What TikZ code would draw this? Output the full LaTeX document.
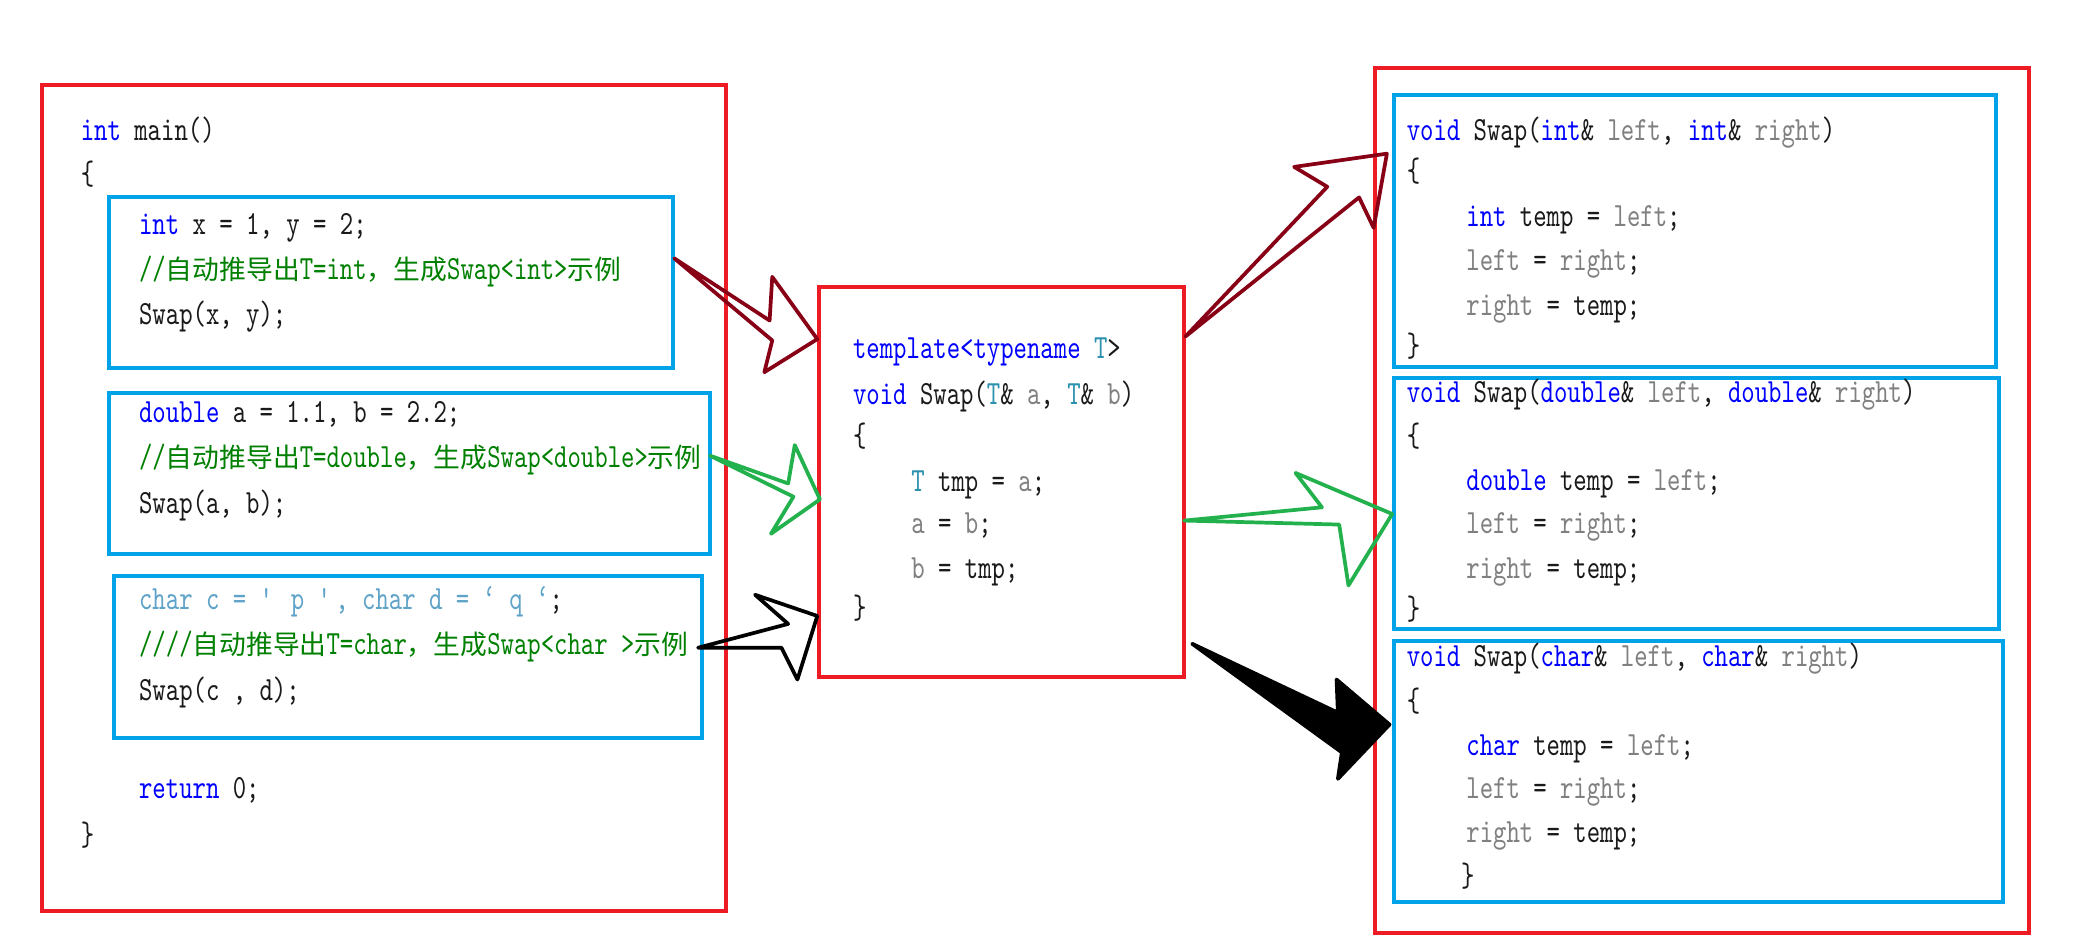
\documentclass[tikz,border=0pt]{standalone}
\usepackage{fontspec}
\usetikzlibrary{fit}
\newfontfamily\codefont[Extension=.otf, FakeStretch=0.752]{lmmono10-regular}
\newfontfamily\cjk[Scale=0.79]{Noto Sans CJK SC}
\definecolor{cRed}{HTML}{ED1C24}
\definecolor{cBlue}{HTML}{00A2E8}
\definecolor{cDarkRed}{HTML}{880015}
\definecolor{cGreen}{HTML}{22B14C}
\definecolor{cKw}{HTML}{0000FF}
\definecolor{cCm}{HTML}{008000}
\definecolor{cGy}{HTML}{808080}
\definecolor{cTp}{HTML}{2B91AF}
\definecolor{cCh}{HTML}{5FA3C8}
\definecolor{cTx}{HTML}{1A1A1A}
\newcommand\ckw[1]{\textcolor{cKw}{#1}}
\newcommand\ccm[1]{\textcolor{cCm}{#1}}
\newcommand\cgy[1]{\textcolor{cGy}{#1}}
\newcommand\ctp[1]{\textcolor{cTp}{#1}}
\newcommand\cch[1]{\textcolor{cCh}{#1}}
\tikzset{
  code/.style={anchor=base west, inner sep=0pt, outer sep=0pt, text=cTx,
    font=\codefont\fontsize{12.8pt}{14pt}\selectfont},
  redframe/.style={draw=cRed, line width=1.5pt, inner sep=0pt, outer sep=0pt},
  blueframe/.style={draw=cBlue, line width=1.5pt, inner sep=0pt, outer sep=0pt},
  blockarrow/.style={line width=1.4pt, line join=round, fill=none},
}
\begin{document}
\begin{tikzpicture}[x=0.5pt, y=-0.5pt]
\fill[white] (0,0) rectangle (1568,711);
\useasboundingbox (0,0) rectangle (1568,711);

% frames
\node[redframe, fit={(32,64) (548,688)}] (mainbox) {};
\node[blueframe, fit={(82,149) (508,278)}] (callint) {};
\node[blueframe, fit={(82,297) (536,418)}] (calldbl) {};
\node[blueframe, fit={(86,435) (530,557)}] (callchr) {};
\node[redframe, fit={(618,217) (894,511)}] (tmpl) {};
\node[redframe, fit={(1038,51) (1532,704)}] (inst) {};
\node[blueframe, fit={(1052,72) (1507,277)}] (instint) {};
\node[blueframe, fit={(1052,285) (1509,475)}] (instdbl) {};
\node[blueframe, fit={(1052,484) (1512,681)}] (instchr) {};

% main() code
\node[code] (m1) at (61,106) {\ckw{int} main()};
\node[code] (m2) at (61,139) {\{};
\node[code] (m3) at (105,177) {\ckw{int} x = 1, y = 2;};
\node[code] (m4) at (105,211) {\ccm{//{\cjk 自动推导出}T=int{\cjk ，生成}Swap<int>{\cjk 示例}}};
\node[code] (m5) at (105,245) {Swap(x, y);};
\node[code] (m6) at (105,319) {\ckw{double} a = 1.1, b = 2.2;};
\node[code] (m7) at (105,353) {\ccm{//{\cjk 自动推导出}T=double{\cjk ，生成}Swap<double>{\cjk 示例}}};
\node[code] (m8) at (105,388) {Swap(a, b);};
\node[code] (m9) at (105,460) {\cch{char c = \textquotesingle{} p \textquotesingle, char d = ‘ q ‘};};
\node[code] (m10) at (105,494) {\ccm{////{\cjk 自动推导出}T=char{\cjk ，生成}Swap<char >{\cjk 示例}}};
\node[code] (m11) at (105,529) {Swap(c , d);};
\node[code] (m12) at (105,603) {\ckw{return} 0;};
\node[code] (m13) at (61,638) {\}};

% template code
\node[code] (t1) at (644,271) {\ckw{template<typename} \ctp{T}>};
\node[code] (t2) at (644,305) {\ckw{void} Swap(\ctp{T}\& \cgy{a}, \ctp{T}\& \cgy{b})};
\node[code] (t3) at (644,337) {\{};
\node[code] (t4) at (688,371) {\ctp{T} tmp = \cgy{a};};
\node[code] (t5) at (688,403) {\cgy{a} = \cgy{b};};
\node[code] (t6) at (688,437) {\cgy{b} = tmp;};
\node[code] (t7) at (644,467) {\}};

% instance int
\node[code] (a1) at (1062,106) {\ckw{void} Swap(\ckw{int}\& \cgy{left}, \ckw{int}\& \cgy{right})};
\node[code] (a2) at (1062,137) {\{};
\node[code] (a3) at (1107,171) {\ckw{int} temp = \cgy{left};};
\node[code] (a4) at (1107,204) {\cgy{left} = \cgy{right};};
\node[code] (a5) at (1107,238) {\cgy{right} = temp;};
\node[code] (a6) at (1062,269) {\}};

% instance double
\node[code] (b1) at (1062,304) {\ckw{void} Swap(\ckw{double}\& \cgy{left}, \ckw{double}\& \cgy{right})};
\node[code] (b2) at (1062,337) {\{};
\node[code] (b3) at (1107,370) {\ckw{double} temp = \cgy{left};};
\node[code] (b4) at (1107,403) {\cgy{left} = \cgy{right};};
\node[code] (b5) at (1107,437) {\cgy{right} = temp;};
\node[code] (b6) at (1062,468) {\}};

% instance char
\node[code] (c1) at (1062,503) {\ckw{void} Swap(\ckw{char}\& \cgy{left}, \ckw{char}\& \cgy{right})};
\node[code] (c2) at (1062,537) {\{};
\node[code] (c3) at (1107,570) {\ckw{char} temp = \cgy{left};};
\node[code] (c4) at (1107,603) {\cgy{left} = \cgy{right};};
\node[code] (c5) at (1107,636) {\cgy{right} = temp;};
\node[code] (c6) at (1103,669) {\}};

% block arrows: tails and tips
\coordinate (s1) at (509,195);  \coordinate (e1) at (617,256);
\coordinate (s2) at (536,344);  \coordinate (e2) at (619,377);
\coordinate (s3) at (527,489);  \coordinate (e3) at (617,465);
\coordinate (s4) at (895,254);  \coordinate (e4) at (1047,116);
\coordinate (s5) at (894,393);  \coordinate (e5) at (1051,388);
\coordinate (s6) at (900,486);  \coordinate (e6) at (1049,547);

\draw[blockarrow, draw=cDarkRed] (s1) -- (581,242) -- (583,209) -- (e1) -- (577,281) -- (583,257) -- cycle;
\draw[blockarrow, draw=cGreen] (s2) -- (595,365) -- (600,336) -- (e2) -- (582,403) -- (599,375) -- cycle;
\draw[blockarrow, draw=black] (s3) -- (595,471) -- (570,449) -- (e3) -- (602,513) -- (590,489) -- cycle;
\draw[blockarrow, draw=cDarkRed] (s4) -- (1002,141) -- (977,126) -- (e4) -- (1037,172) -- (1026,149) -- cycle;
\draw[blockarrow, draw=cGreen] (s5) -- (998,383) -- (978,357) -- (e5) -- (1018,442) -- (1011,396) -- cycle;
\draw[blockarrow, draw=black, fill=black] (s6) -- (1010,538) -- (1009,513) -- (e6) -- (1010,588) -- (1013,568) -- cycle;
\end{tikzpicture}
\end{document}
